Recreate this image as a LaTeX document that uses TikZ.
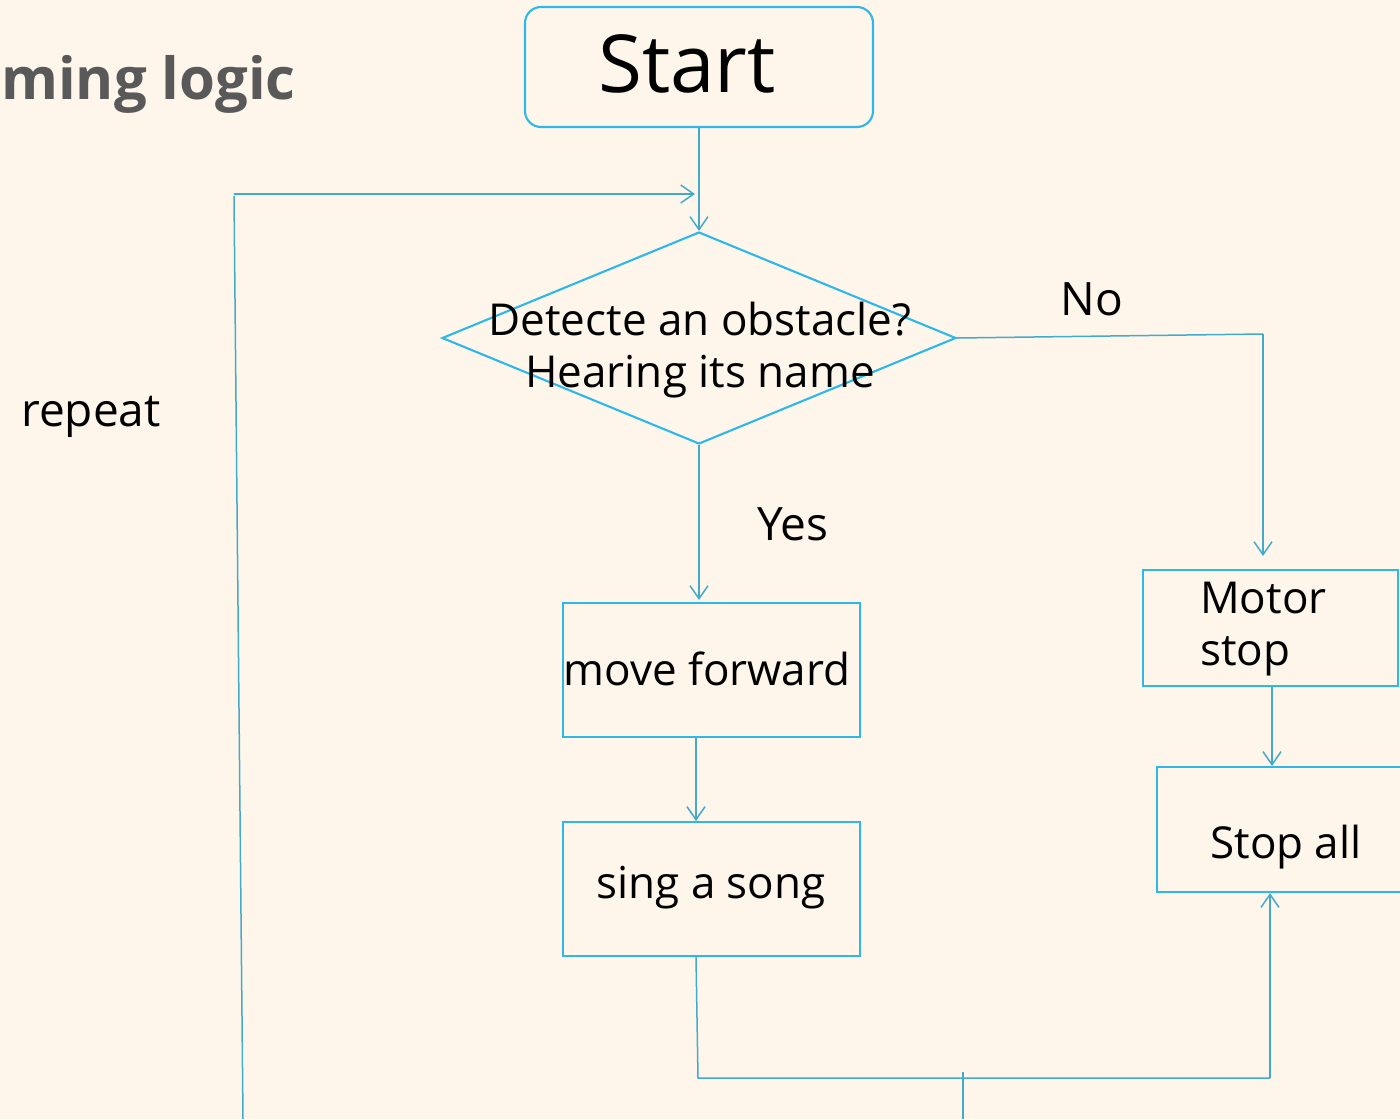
\documentclass[tikz,border=0pt]{standalone}
\usepackage{fontspec}
\setmainfont{Open Sans}
\usetikzlibrary{shapes.geometric,arrows.meta}
\definecolor{bg}{HTML}{FEF6EA}
\definecolor{boxc}{HTML}{2DB7EA}
\definecolor{connc}{HTML}{44AACC}
\definecolor{titlec}{HTML}{595959}
\begin{document}
\begin{tikzpicture}[x=1pt,y=-1pt,
  box/.style={draw=boxc,line width=2.1pt,rectangle,inner sep=0pt},
  conn/.style={draw=connc,line width=1.5pt},
  arr/.style={conn,-{Straight Barb[length=13pt,width=18pt,line width=1.5pt]}},
  lbl/.style={font=\fontsize{44}{52}\selectfont,text=black,inner sep=0pt}]
\fill[bg] (0,0) rectangle (1400,1119);
\useasboundingbox (0,0) rectangle (1400,1119);

% title
\node[anchor=base east,inner sep=0pt,text=titlec,font=\fontsize{58}{66}\selectfont\bfseries] (title) at (296,99) {Programming logic};

% nodes
\node[box,rounded corners=16pt,minimum width=348,minimum height=120] (start) at (699,67) {};
\node[inner sep=0pt,font=\fontsize{80}{90}\selectfont] (starttext) at (687,64) {Start};

\node[draw=boxc,line width=2.1pt,diamond,inner sep=0pt,minimum width=514,minimum height=212] (dec) at (699,338) {};
\node[lbl,align=center] (dectext) at (700,350) {Detecte an obstacle?\\Hearing its name};

\node[box,minimum width=297,minimum height=134] (mf) at (711.5,670) {};
\node[lbl] (mftext) at (707,669) {move forward};
\node[box,minimum width=297,minimum height=134] (song) at (711.5,889) {};
\node[lbl] (songtext) at (711,888) {sing a song};

\node[box,minimum width=255,minimum height=116] (motor) at (1270.5,628) {};
\node[lbl,align=left,anchor=west] (motortext) at (1200,629) {Motor\\stop};
\node[box,minimum width=266,minimum height=125] (stopall) at (1290,829.5) {};
\node[lbl] (stoptext) at (1286,847) {Stop all};

\node[lbl,font=\fontsize{46}{54}\selectfont] (no) at (1092,299) {No};
\node[lbl,font=\fontsize{46}{54}\selectfont] (yes) at (793,524) {Yes};
\node[lbl,font=\fontsize{46}{54}\selectfont] (repeat) at (91,417) {repeat};

% coordinates
\coordinate (lb) at (243,1119);
\coordinate (lt) at (234,196);
\coordinate (la) at (234,194);
\coordinate (lr) at (695,194);
\coordinate (nocorner) at (1263,334);
\coordinate (noend) at (1263,556);
\coordinate (yesend) at (699,600);
\coordinate (bl) at (698,1078);
\coordinate (br) at (1270,1078);
\coordinate (tt) at (963,1072);
\coordinate (tb) at (963,1119);

% connectors
\draw[arr] (start.south) -- (dec.north);
\draw[conn] (lb) -- (lt);
\draw[arr] (la) -- (lr);
\draw[conn] (dec.east) -- (nocorner);
\draw[arr] (nocorner) -- (noend);
\draw[arr] (dec.south) -- (yesend);
\draw[arr] ([xshift=-15.5pt]mf.south) -- ([xshift=-15.5pt]song.north);
\draw[arr] ([xshift=1.5pt]motor.south) -- ([xshift=-18pt]stopall.north);
\draw[conn] ([xshift=-15.5pt]song.south) -- (bl) -- (br);
\draw[arr] (br) -- ([xshift=-20pt]stopall.south);
\draw[conn] (tt) -- (tb);
\end{tikzpicture}
\end{document}
